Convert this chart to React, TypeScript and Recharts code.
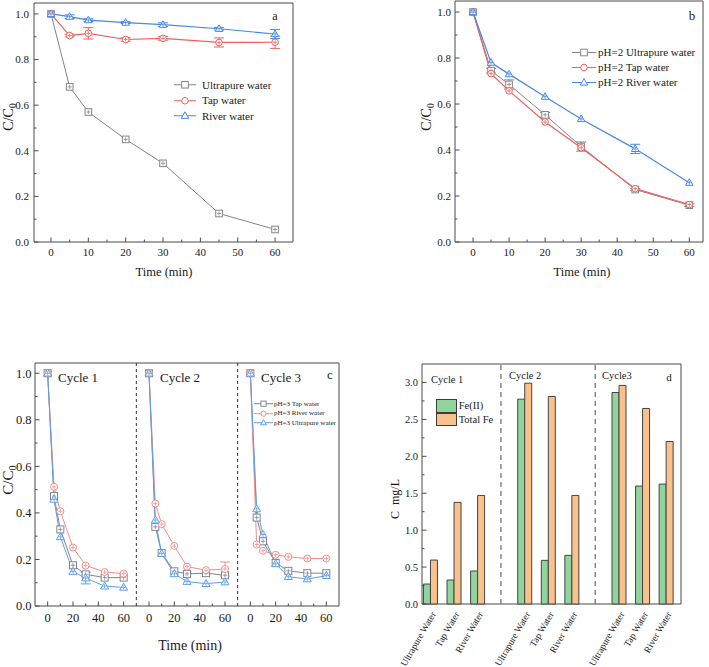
import React from "react";
import {
  LineChart, Line, BarChart, Bar, XAxis, YAxis, ReferenceArea, ReferenceLine, ErrorBar, Legend,
} from "recharts";

const FONT = '"Liberation Serif", "DejaVu Serif", serif';
const INK = "#1a1a1a";
const FRAME = "#4a4a4a";

// sampling times (min)
const time = [0, 5, 10, 20, 30, 45, 60];

// (a) natural water matrices
const aUltrapure = [1.0, 0.68, 0.57, 0.45, 0.345, 0.125, 0.055];
const aTap = [1.0, 0.905, 0.915, 0.888, 0.893, 0.875, 0.876];
const aTapErr = [0, 0.006, 0.025, 0.008, 0.008, 0.02, 0.027];
const aRiver = [1.0, 0.988, 0.973, 0.962, 0.953, 0.935, 0.912];
const aRiverErr = [0, 0.008, 0.006, 0.004, 0.008, 0.006, 0.02];

// (b) pH = 2
const bUltrapure = [1.0, 0.745, 0.685, 0.553, 0.415, 0.228, 0.16];
const bUltrapureErr = [0, 0.01, 0.02, 0.01, 0.02, 0.005, 0.006];
const bTap = [1.0, 0.732, 0.657, 0.522, 0.41, 0.232, 0.163];
const bRiver = [1.0, 0.78, 0.73, 0.632, 0.535, 0.405, 0.258];
const bRiverErr = [0, 0, 0, 0, 0, 0.02, 0];

// (c) pH = 3, three reuse cycles
const cTap = [
  [1.0, 0.472, 0.329, 0.175, 0.136, 0.122, 0.122],
  [1.0, 0.34, 0.228, 0.149, 0.138, 0.141, 0.132],
  [1.0, 0.38, 0.278, 0.185, 0.151, 0.141, 0.141],
];
const cRiver = [
  [1.0, 0.512, 0.407, 0.251, 0.174, 0.146, 0.139],
  [1.0, 0.44, 0.352, 0.258, 0.169, 0.154, 0.159],
  [1.0, 0.264, 0.237, 0.22, 0.211, 0.204, 0.204],
];
const cRiverErr = [
  [0, 0, 0, 0, 0, 0, 0],
  [0, 0, 0, 0, 0, 0, 0.03],
  [0, 0, 0, 0, 0, 0, 0],
];
const cUltrapure = [
  [1.0, 0.458, 0.297, 0.148, 0.12, 0.085, 0.08],
  [1.0, 0.369, 0.225, 0.138, 0.105, 0.096, 0.103],
  [1.0, 0.417, 0.307, 0.181, 0.126, 0.116, 0.13],
];
const cUltrapureErr = [
  [0, 0, 0, 0, 0.025, 0, 0],
  [0, 0, 0, 0, 0, 0, 0],
  [0, 0, 0, 0, 0, 0, 0],
];
const cCycles = ["Cycle 1", "Cycle 2", "Cycle 3"];

// (d) leached iron, mg/L
const dWaters = ["Ultrapure Water", "Tap Water", "River Water"];
const dCycles = ["Cycle 1", "Cycle 2", "Cycle3"];
const dFe2 = [[0.27, 0.325, 0.447], [2.774, 0.591, 0.659], [2.864, 1.597, 1.624]];
const dTotalFe = [[0.595, 1.376, 1.47], [2.99, 2.81, 1.47], [2.96, 2.648, 2.2]];

// tick labels
const ticksTime = [0, 10, 20, 30, 40, 50, 60];
const ticksCycleTime = [0, 20, 40, 60];
const ticksFrac = [0, 0.2, 0.4, 0.6, 0.8, 1.0];
const ticksConc = [0, 0.5, 1.0, 1.5, 2.0, 2.5, 3.0];

const mids = (a: number[]) => a.slice(1).map((v, i) => (v + a[i]) / 2);
const isIn = (arr: number[], v: number) => arr.some((m) => Math.abs(m - v) < 1e-6);

const GRAY = "#858585";
const RED = "#f05f5c";
const BLUE = "#4489e6";
const C_TAP = "#7f8494";
const C_RIVER = "#f28d8a";
const C_ULTRA = "#5d9feb";
const GREEN = "#91d49d";
const ORANGE = "#f9c28d";

const CYCLE_SPAN = 80;

const dataA = time.map((t, i) => ({
  t, ultrapure: aUltrapure[i], tap: aTap[i], tapErr: aTapErr[i], river: aRiver[i], riverErr: aRiverErr[i],
}));
const dataB = time.map((t, i) => ({
  t, ultrapure: bUltrapure[i], ultrapureErr: bUltrapureErr[i], tap: bTap[i], river: bRiver[i], riverErr: bRiverErr[i],
}));
const dataC: any[] = [];
cCycles.forEach((_, c) => {
  time.forEach((t, i) =>
    dataC.push({
      t: t + c * CYCLE_SPAN,
      tap: cTap[c][i],
      river: cRiver[c][i], riverErr: cRiverErr[c][i],
      ultrapure: cUltrapure[c][i], ultrapureErr: cUltrapureErr[c][i],
    })
  );
  if (c < cCycles.length - 1) dataC.push({ t: 70 + c * CYCLE_SPAN, tap: null, river: null, ultrapure: null });
});
const dataD: any[] = [];
dCycles.forEach((_, c) =>
  dWaters.forEach((w, i) => dataD.push({ pos: c * 4 + i + 1, label: w, fe2: dFe2[c][i], total: dTotalFe[c][i] }))
);

const Marker = ({ cx, cy, kind, color, s, cross = true }: any) => {
  if (cx == null || cy == null || isNaN(cy)) return null;
  let shape;
  if (kind === "square") shape = <rect x={cx - s} y={cy - s} width={2 * s} height={2 * s} fill="#fff" stroke={color} />;
  else if (kind === "circle") shape = <circle cx={cx} cy={cy} r={s} fill="#fff" stroke={color} />;
  else shape = <polygon points={`${cx},${cy - s * 1.2} ${cx - s * 1.15},${cy + s * 0.8} ${cx + s * 1.15},${cy + s * 0.8}`} fill="#fff" stroke={color} />;
  const c = s * 0.6;
  return (
    <g>
      {shape}
      {cross && <path d={`M${cx - c},${cy}H${cx + c}M${cx},${cy - c}V${cy + c}`} stroke={color} strokeWidth={0.8} />}
    </g>
  );
};
const dotOf = (kind: string, color: string, s: number) => (p: any) =>
  <Marker key={`m${p.index}`} cx={p.cx} cy={p.cy} kind={kind} color={color} s={s} />;

const yTick = (majors: number[], fs: number, gap: number) => (p: any) => {
  const v = p.payload.value;
  const major = isIn(majors, v);
  return (
    <g>
      <line x1={p.x} x2={p.x + (major ? 4.5 : 2.5)} y1={p.y} y2={p.y} stroke={FRAME} />
      {major && (
        <text x={p.x - gap} y={p.y} dy="0.35em" textAnchor="end" fontSize={fs} fontFamily={FONT} fill={INK}>
          {v.toFixed(1)}
        </text>
      )}
    </g>
  );
};
const xTick = (majors: number[], fs: number, dy: number, fmt: (v: number) => string) => (p: any) => {
  const v = p.payload.value;
  const major = isIn(majors, v);
  return (
    <g>
      <line x1={p.x} x2={p.x} y1={p.y} y2={p.y - (major ? 4.5 : 2.5)} stroke={FRAME} />
      {major && (
        <text x={p.x} y={p.y + dy} textAnchor="middle" fontSize={fs} fontFamily={FONT} fill={INK}>
          {fmt(v)}
        </text>
      )}
    </g>
  );
};

const LineLegend = ({ items, fs, rowH, iconW, gap, s, lw = 1 }: any) => (
  <div style={{ fontFamily: FONT, fontSize: fs, color: INK }}>
    {items.map((it: any) => (
      <div key={it.name} style={{ display: "flex", alignItems: "center", height: rowH, whiteSpace: "nowrap" }}>
        <svg width={iconW} height={rowH} style={{ display: "block" }}>
          <line x1={0} x2={iconW} y1={rowH / 2} y2={rowH / 2} stroke={it.color} strokeWidth={lw} />
          <Marker cx={iconW / 2} cy={rowH / 2} kind={it.kind} color={it.color} s={s} cross={false} />
        </svg>
        <span style={{ marginLeft: gap }}>{it.name}</span>
      </div>
    ))}
  </div>
);

const seriesA = [
  { key: "ultrapure", name: "Ultrapure water", color: GRAY, kind: "square", w: 1 },
  { key: "tap", name: "Tap water", color: RED, kind: "circle", err: "tapErr", w: 1.2 },
  { key: "river", name: "River water", color: BLUE, kind: "triangle", err: "riverErr", w: 1.2 },
];
const seriesB = [
  { key: "ultrapure", name: "pH=2 Ultrapure water", color: GRAY, kind: "square", err: "ultrapureErr", w: 1 },
  { key: "tap", name: "pH=2 Tap water", color: RED, kind: "circle", w: 1.2 },
  { key: "river", name: "pH=2 River water", color: BLUE, kind: "triangle", err: "riverErr", w: 1.2 },
];
const seriesC = [
  { key: "tap", name: "pH=3 Tap water", color: C_TAP, kind: "square", w: 1 },
  { key: "river", name: "pH=3 River water", color: C_RIVER, kind: "circle", err: "riverErr", w: 1 },
  { key: "ultrapure", name: "pH=3 Ultrapure water", color: C_ULTRA, kind: "triangle", err: "ultrapureErr", w: 1 },
];

const renderLines = (series: any[], s: number) =>
  series.map((sr) => (
    <Line
      key={sr.key}
      dataKey={sr.key}
      type="linear"
      stroke={sr.color}
      strokeWidth={sr.w}
      dot={dotOf(sr.kind, sr.color, s)}
      activeDot={false}
      connectNulls={false}
      isAnimationActive={false}
    >
      {sr.err && <ErrorBar dataKey={sr.err} width={5} stroke={sr.color} strokeWidth={1} direction="y" />}
    </Line>
  ));

const fmtInt = (v: number) => String(Math.round(v));
const fmtCycle = (v: number) => String(Math.round(((v % CYCLE_SPAN) + CYCLE_SPAN) % CYCLE_SPAN));

function TimeChart({ data, series, width, height, margin, xDomain, yDomain, yWidth, fs, xdy, ygap, legend }: any) {
  const yTicks = [...ticksFrac, ...mids(ticksFrac)];
  const xTicks = [...ticksTime, ...mids(ticksTime)];
  return (
    <LineChart width={width} height={height} data={data} margin={margin}>
      <XAxis dataKey="t" type="number" domain={xDomain} ticks={xTicks} interval={0} tickSize={0} tickMargin={0}
        axisLine={false} height={30} tick={xTick(ticksTime, fs, xdy, fmtInt)} />
      <YAxis type="number" domain={yDomain} ticks={yTicks} interval={0} tickSize={0} tickMargin={0}
        axisLine={false} width={yWidth} tick={yTick(ticksFrac, fs, ygap)} />
      <ReferenceArea x1={xDomain[0]} x2={xDomain[1]} y1={yDomain[0]} y2={yDomain[1]} fill="none" stroke={FRAME} strokeWidth={1} ifOverflow="visible" />
      {renderLines(series, 3.3)}
      <Legend layout="vertical" align="center" verticalAlign="middle" wrapperStyle={{ left: legend.left, top: legend.top, width: "auto" }}
        content={() => <LineLegend items={series} fs={legend.fs} rowH={legend.rowH} iconW={legend.iconW} gap={legend.gap} s={3.3} />} />
    </LineChart>
  );
}

function CycleChart() {
  const xDomain = [-10, 230];
  const yDomain = [0, 1.044];
  const majors = cCycles.flatMap((_, c) => ticksCycleTime.map((t) => t + c * CYCLE_SPAN));
  const minors = cCycles.flatMap((_, c) => mids(ticksCycleTime).map((t) => t + c * CYCLE_SPAN));
  const yTicks = [...ticksFrac, ...mids(ticksFrac)];
  return (
    <LineChart width={360} height={327} data={dataC} margin={{ top: 23, right: 21, bottom: 31, left: 0 }}>
      <XAxis dataKey="t" type="number" domain={xDomain} ticks={[...majors, ...minors]} interval={0} tickSize={0} tickMargin={0}
        axisLine={false} height={30} tick={xTick(majors, 12.5, 15.5, fmtCycle)} />
      <YAxis type="number" domain={yDomain} ticks={yTicks} interval={0} tickSize={0} tickMargin={0}
        axisLine={false} width={35} tick={yTick(ticksFrac, 12.5, 3.5)} />
      <ReferenceArea x1={xDomain[0]} x2={xDomain[1]} y1={yDomain[0]} y2={yDomain[1]} fill="none" stroke={FRAME} strokeWidth={1} ifOverflow="visible" />
      {cCycles.slice(1).map((_, c) => (
        <ReferenceLine key={c} x={70 + c * CYCLE_SPAN} stroke="#333" strokeDasharray="3 3" />
      ))}
      {renderLines(seriesC, 3.5)}
      <Legend layout="vertical" align="center" verticalAlign="middle" wrapperStyle={{ left: 254, top: 59.3, width: "auto" }}
        content={() => <LineLegend items={seriesC} fs={7} rowH={9.4} iconW={19} gap={1} s={2.6} />} />
    </LineChart>
  );
}

const BarLegend = () => (
  <div style={{ fontFamily: FONT, fontSize: 10.5, color: INK }}>
    {[{ name: "Fe(II)", color: GREEN }, { name: "Total Fe", color: ORANGE }].map((it) => (
      <div key={it.name} style={{ display: "flex", alignItems: "center", height: 13.5, whiteSpace: "nowrap" }}>
        <div style={{ width: 21, height: 13.5, boxSizing: "border-box", background: it.color, border: "1px solid #3c3c3c" }} />
        <span style={{ marginLeft: 2 }}>{it.name}</span>
      </div>
    ))}
  </div>
);

function IronChart() {
  const xDomain = [0.65, 11.64];
  const yDomain = [0, 3.25];
  const dTick = (p: any) => {
    const row = dataD.find((r) => r.pos === p.payload.value);
    const x = p.x + 6;
    const y = p.y + 10;
    return (
      <text x={x} y={y} transform={`rotate(-60 ${x} ${y})`} textAnchor="end" fontSize={9.5} fontFamily={FONT} fill={INK}>
        {row ? row.label : ""}
      </text>
    );
  };
  return (
    <BarChart width={349} height={327} data={dataD} margin={{ top: 24, right: 28, bottom: 23, left: 32 }} barGap={0}>
      <XAxis dataKey="pos" type="number" domain={xDomain} ticks={dataD.map((r) => r.pos)} interval={0} tickSize={0} tickMargin={0}
        axisLine={false} height={40} tick={dTick} />
      <YAxis type="number" domain={yDomain} ticks={[...ticksConc, ...mids(ticksConc)]} interval={0} tickSize={0} tickMargin={0}
        axisLine={false} width={30} tick={yTick(ticksConc, 10.5, 4)} />
      <Bar dataKey="fe2" fill={GREEN} stroke="#444" strokeWidth={1} barSize={7} isAnimationActive={false} />
      <Bar dataKey="total" fill={ORANGE} stroke="#444" strokeWidth={1} barSize={7} isAnimationActive={false} />
      <ReferenceLine x={4} stroke="#6a6a6a" strokeDasharray="5 4" strokeWidth={1.2} />
      <ReferenceLine x={8} stroke="#6a6a6a" strokeDasharray="5 4" strokeWidth={1.2} />
      <ReferenceArea x1={xDomain[0]} x2={xDomain[1]} y1={yDomain[0]} y2={yDomain[1]} fill="none" stroke={FRAME} strokeWidth={1} ifOverflow="visible" />
      <Legend layout="vertical" align="center" verticalAlign="middle" wrapperStyle={{ left: 75.7, top: 59, width: "auto" }} content={() => <BarLegend />} />
    </BarChart>
  );
}

const Txt = ({ x, y, fs, anchor = "start", rotate, children }: any) => (
  <text x={x} y={y} fontSize={fs} fontFamily={FONT} fill={INK} textAnchor={anchor}
    transform={rotate ? `rotate(${rotate} ${x} ${y})` : undefined}>
    {children}
  </text>
);
const CC0 = ({ x, y, fs }: any) => (
  <Txt x={x} y={y} fs={fs} anchor="middle" rotate={-90}>
    C/C<tspan fontSize={fs * 0.68} dy={fs * 0.22}>0</tspan>
  </Txt>
);

export default function App() {
  return (
    <div style={{ position: "absolute", left: 0, top: 0, width: 709, height: 667, background: "#fff", overflow: "hidden" }}>
      <div style={{ position: "absolute", left: 0, top: 0 }}>
        <TimeChart data={dataA} series={seriesA} width={300} height={290}
          margin={{ top: 3, right: 7, bottom: 18, left: 0 }} xDomain={[-4.55, 64.8]} yDomain={[0, 1.048]}
          yWidth={34} fs={11} xdy={14} ygap={5}
          legend={{ left: 174, top: 77, fs: 11, rowH: 15.5, iconW: 22, gap: 6 }} />
      </div>
      <div style={{ position: "absolute", left: 360, top: 0 }}>
        <TimeChart data={dataB} series={seriesB} width={349} height={290}
          margin={{ top: 1, right: 6, bottom: 18, left: 61 }} xDomain={[-5, 63.8]} yDomain={[0, 1.048]}
          yWidth={34} fs={11} xdy={14} ygap={4}
          legend={{ left: 212, top: 44.5, fs: 11, rowH: 15, iconW: 24, gap: 2 }} />
      </div>
      <div style={{ position: "absolute", left: 0, top: 340 }}>
        <CycleChart />
      </div>
      <div style={{ position: "absolute", left: 360, top: 340 }}>
        <IronChart />
      </div>
      <svg width={709} height={667} style={{ position: "absolute", left: 0, top: 0, pointerEvents: "none" }}>
        <CC0 x={13} y={117} fs={14} />
        <CC0 x={431} y={117} fs={14} />
        <CC0 x={13} y={480} fs={15} />
        <Txt x={399} y={499} fs={12} anchor="middle" rotate={-90}>{"C\u00a0\u00a0mg/L"}</Txt>
        <Txt x={164} y={276} fs={12.5} anchor="middle">Time (min)</Txt>
        <Txt x={582} y={276} fs={12.5} anchor="middle">Time (min)</Txt>
        <Txt x={190} y={650} fs={14} anchor="middle">Time (min)</Txt>
        <Txt x={275} y={20} fs={12} anchor="middle">a</Txt>
        <Txt x={692} y={20} fs={13} anchor="middle">b</Txt>
        <Txt x={330} y={379} fs={13} anchor="middle">c</Txt>
        <Txt x={669} y={381} fs={11} anchor="middle">d</Txt>
        {cCycles.map((name, i) => (
          <Txt key={name} x={[58, 160, 261][i]} y={382} fs={13}>{name}</Txt>
        ))}
        {dCycles.map((name, i) => (
          <Txt key={name} x={[431, 509, 602][i]} y={[383, 379, 379][i]} fs={10.5}>{name}</Txt>
        ))}
      </svg>
    </div>
  );
}
